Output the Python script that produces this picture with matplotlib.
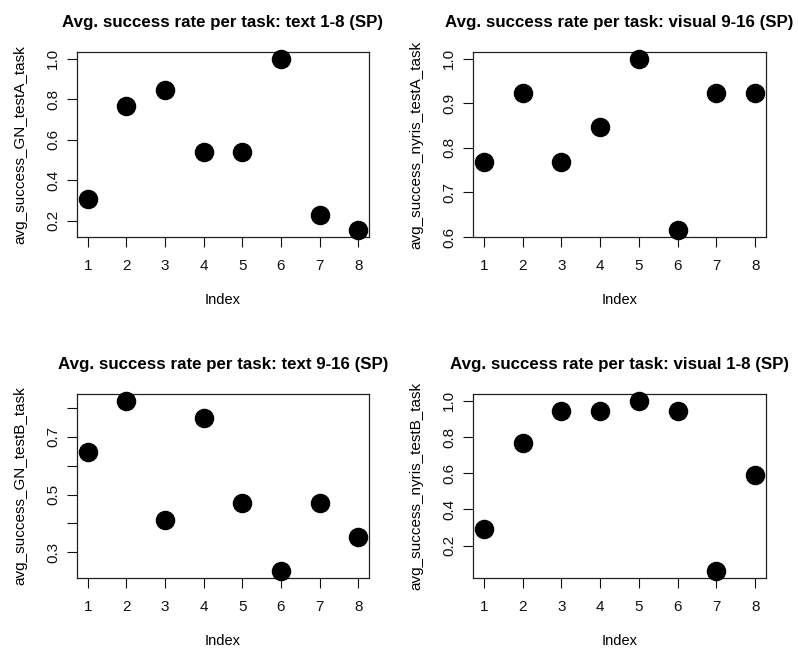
import numpy as np
import matplotlib
matplotlib.use("Agg")
import matplotlib.pyplot as plt

plt.rcParams['font.family'] = ['Liberation Sans', 'DejaVu Sans']

# 데이터 (13 / 17 분모의 비율로 읽음)
idx = np.arange(1, 9)
gn_testA = [4/13, 10/13, 11/13, 7/13, 7/13, 13/13, 3/13, 2/13]
nyris_testA = [10/13, 12/13, 10/13, 11/13, 13/13, 8/13, 12/13, 12/13]
gn_testB = [11/17, 14/17, 7/17, 13/17, 8/17, 4/17, 8/17, 6/17]
nyris_testB = [5/17, 13/17, 16/17, 16/17, 17/17, 16/17, 1/17, 10/17]

titles = ["Avg. success rate per task: text 1-8 (SP)",
          "Avg. success rate per task: visual 9-16 (SP)",
          "Avg. success rate per task: text 9-16 (SP)",
          "Avg. success rate per task: visual 1-8 (SP)"]
ylabels = ["avg_success_GN_testA_task", "avg_success_nyris_testA_task",
           "avg_success_GN_testB_task", "avg_success_nyris_testB_task"]
yticks = [[0.2, 0.4, 0.6, 0.8, 1.0],
          [0.6, 0.7, 0.8, 0.9, 1.0],
          [0.3, 0.4, 0.5, 0.6, 0.7, 0.8],
          [0.2, 0.4, 0.6, 0.8, 1.0]]
ytick_labels = [["0.2", "0.4", "0.6", "0.8", "1.0"],
                ["0.6", "0.7", "0.8", "0.9", "1.0"],
                ["0.3", "", "0.5", "", "0.7", ""],
                ["0.2", "0.4", "0.6", "0.8", "1.0"]]
series = [gn_testA, nyris_testA, gn_testB, nyris_testB]

W, H = 798, 649
fig = plt.figure(figsize=(W/100, H/100), dpi=100)

# 패널 위치 (픽셀: 왼쪽, 위, 오른쪽, 아래)
boxes = [(77, 52, 369, 237), (473, 52, 766, 237),
         (77, 394, 369, 578), (473, 394, 766, 578)]

for k in range(4):
    l, t, r, b = boxes[k]
    ax = fig.add_axes([l/W, 1 - b/H, (r-l)/W, (b-t)/H])
    y = np.array(series[k])
    ax.scatter(idx, y, s=170, c='black', zorder=3, clip_on=False)

    # R 기본 축 범위: 4% 확장
    lo, hi = y.min(), y.max()
    pad = (hi - lo) * 0.04
    ax.set_ylim(lo - pad, hi + pad)
    ax.set_xlim(1 - 7*0.04, 8 + 7*0.04)

    ax.set_xticks(idx)
    ax.set_xticklabels([str(i) for i in idx])
    ax.set_yticks(yticks[k])
    ax.set_yticklabels(ytick_labels[k], rotation=90, va='center')
    ax.tick_params(direction='out', length=7, width=0.8, labelsize=11,
                   colors='#111111')
    ax.tick_params(axis='x', pad=9)
    ax.tick_params(axis='y', pad=5)
    for sp in ax.spines.values():
        sp.set_linewidth(0.9)
        sp.set_color('#222222')

    ax.set_title(titles[k], fontsize=12.2, fontweight='bold', pad=18)
    ax.set_xlabel("Index", fontsize=10.5, labelpad=14)
    ax.set_ylabel(ylabels[k], fontsize=11, labelpad=14)

plt.savefig("out.png", dpi=100)
